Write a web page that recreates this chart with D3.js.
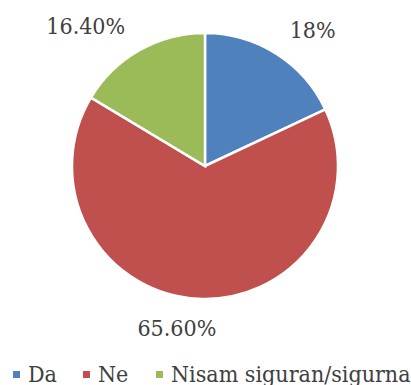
<!DOCTYPE html>
<html>
<head>
<meta charset="utf-8">
<script src="https://cdn.jsdelivr.net/npm/d3@7"></script>
<style>
  html, body { margin: 0; padding: 0; background: #fff; }
  svg { display: block; }
  text { font-family: "DejaVu Serif Condensed", "DejaVu Serif", serif; font-stretch: condensed; fill: #404040; }
</style>
</head>
<body>
<svg id="chart" width="411" height="385"></svg>
<script>
// Survey answers and their shares (percent)
const categories = ["Da", "Ne", "Nisam siguran/sigurna"];
const values = [18, 65.6, 16.4];
const valueLabels = ["18%", "65.60%", "16.40%"];
const colors = ["#4F81BD", "#C0504D", "#9BBB59"];

const width = 411, height = 385;
const cx = 205, cy = 166, radius = 133;

// Label placement: distance from centre along the slice mid-angle, plus small nudges
const labelDist = [171, 162, 171];
const labelNudge = [[16, 8], [-20, 0], [-35, 9]];

const svg = d3.select("#chart");

const pie = d3.pie().sort(null).value(d => d)(values);
const arc = d3.arc().innerRadius(0).outerRadius(radius);

const g = svg.append("g").attr("transform", `translate(${cx},${cy})`);

g.selectAll("path.slice")
  .data(pie)
  .join("path")
  .attr("class", "slice")
  .attr("d", arc)
  .attr("fill", (d, i) => colors[i])
  .attr("stroke", "#fff")
  .attr("stroke-width", 2.5)
  .attr("stroke-linejoin", "miter");

g.selectAll("text.val")
  .data(pie)
  .join("text")
  .attr("class", "val")
  .attr("text-anchor", "middle")
  .attr("dominant-baseline", "central")
  .attr("font-size", 23)
  .attr("x", (d, i) => {
    const a = (d.startAngle + d.endAngle) / 2;
    return Math.sin(a) * labelDist[i] + labelNudge[i][0];
  })
  .attr("y", (d, i) => {
    const a = (d.startAngle + d.endAngle) / 2;
    return -Math.cos(a) * labelDist[i] + labelNudge[i][1];
  })
  .text((d, i) => valueLabels[i]);

// Legend along the bottom
const legendX = [13, 83, 156];
const legend = svg.append("g").attr("class", "legend");
const items = legend.selectAll("g")
  .data(categories)
  .join("g")
  .attr("transform", (d, i) => `translate(${legendX[i]},382)`);

items.append("rect")
  .attr("x", 0).attr("y", -11)
  .attr("width", 7).attr("height", 7)
  .attr("fill", (d, i) => colors[i]);

items.append("text")
  .attr("x", 15)
  .attr("y", 0)
  .attr("font-size", 23)
  .text(d => d);
</script>
</body>
</html>
